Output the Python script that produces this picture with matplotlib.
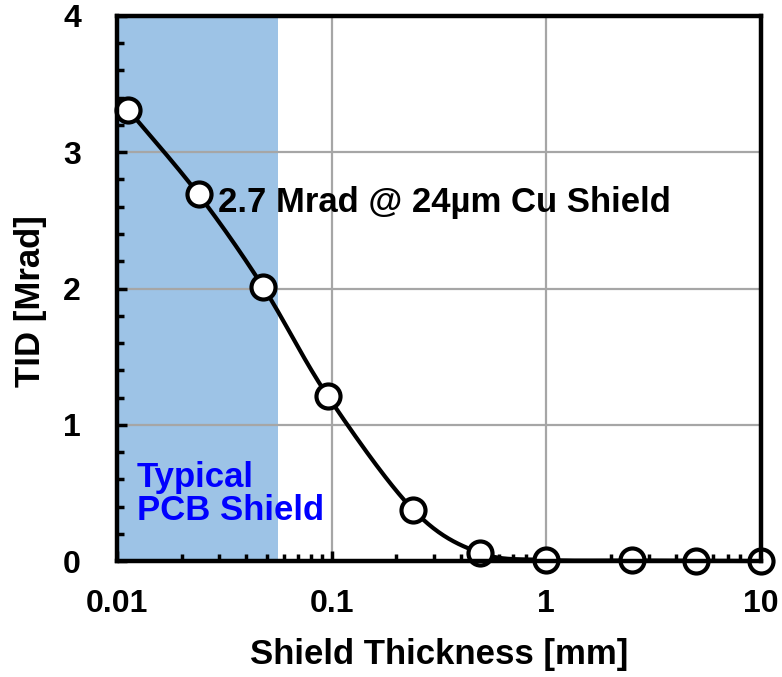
import numpy as np
import matplotlib.pyplot as plt
from matplotlib.ticker import FixedLocator, LogLocator, NullFormatter, MultipleLocator

plt.rcParams['font.family'] = ['Liberation Sans', 'DejaVu Sans']
plt.rcParams['font.weight'] = 'bold'

# shield thickness [mm] and total ionizing dose [Mrad]
thickness = [0.0113, 0.024, 0.048, 0.096, 0.24, 0.49, 1.0, 2.5, 5.0, 10.0]
tid = [3.31, 2.69, 2.01, 1.21, 0.375, 0.06, 0.008, 0.004, 0.002, 0.0]
pcb_shield_max = 0.056


def smooth_curve(x, y, n=40):
    # Catmull-Rom style smoothing in screen-like units (log x)
    u = np.log10(x) * 214.7
    v = np.array(y) * 136.25
    pts = np.column_stack([u, v])
    out = []
    for i in range(len(pts) - 1):
        p0 = pts[i - 1] if i > 0 else pts[i]
        p1 = pts[i]
        p2 = pts[i + 1]
        p3 = pts[i + 2] if i + 2 < len(pts) else pts[i + 1]
        c1 = p1 + (p2 - p0) / 6
        c2 = p2 - (p3 - p1) / 6
        t = np.linspace(0, 1, n)[:, None]
        seg = ((1 - t) ** 3) * p1 + 3 * ((1 - t) ** 2) * t * c1 + 3 * (1 - t) * t ** 2 * c2 + t ** 3 * p2
        out.append(seg)
    out = np.vstack(out)
    return 10 ** (out[:, 0] / 214.7), out[:, 1] / 136.25


fig = plt.figure(figsize=(7.82, 6.77), dpi=100)
ax = fig.add_axes([0.1496, 0.1713, 0.8235, 0.8051])

ax.axvspan(0.01, pcb_shield_max, color='#9DC3E6', zorder=0, lw=0)

sx, sy = smooth_curve(thickness, tid)
ax.plot(sx, sy, color='black', lw=3, zorder=3, clip_on=False)
ax.plot(thickness, tid, 'o', ms=17.3, mfc='white', mec='black', mew=3, zorder=4, clip_on=False)

ax.set_xscale('log')
ax.set_xlim(0.01, 10)
ax.set_ylim(0, 4)
ax.xaxis.set_major_locator(FixedLocator([0.01, 0.1, 1, 10]))
ax.set_xticklabels(['0.01', '0.1', '1', '10'])
ax.xaxis.set_minor_locator(LogLocator(base=10, subs=np.arange(2, 10)))
ax.xaxis.set_minor_formatter(NullFormatter())
ax.yaxis.set_major_locator(MultipleLocator(1))
ax.yaxis.set_minor_locator(MultipleLocator(0.2))

ax.grid(True, which='major', color='#A6A6A6', lw=1.6, zorder=1)
ax.set_axisbelow(True)

for s in ax.spines.values():
    s.set_linewidth(3.2)
    s.set_zorder(5)

ax.tick_params(which='major', direction='in', length=7, width=2.5, labelsize=23)
ax.tick_params(which='minor', direction='in', length=5, width=2.5)
ax.tick_params(axis='x', pad=20)
ax.tick_params(axis='y', pad=26)

ax.set_xlabel('Shield Thickness [mm]', fontsize=25, fontweight='bold', labelpad=14)
ax.set_ylabel('TID [Mrad]', fontsize=25, fontweight='bold')
ax.yaxis.set_label_coords(-0.108, 0.477)

ax.text(0.0295, 2.63, '2.7 Mrad @ 24µm Cu Shield', fontsize=25, fontweight='bold',
        va='center', ha='left', zorder=6)
ax.text(0.0124, 0.49, 'Typical\nPCB Shield', fontsize=25, fontweight='bold', color='#0000FF',
        va='center', ha='left', linespacing=1.0, zorder=6)

fig.savefig('out.png', dpi=100)
